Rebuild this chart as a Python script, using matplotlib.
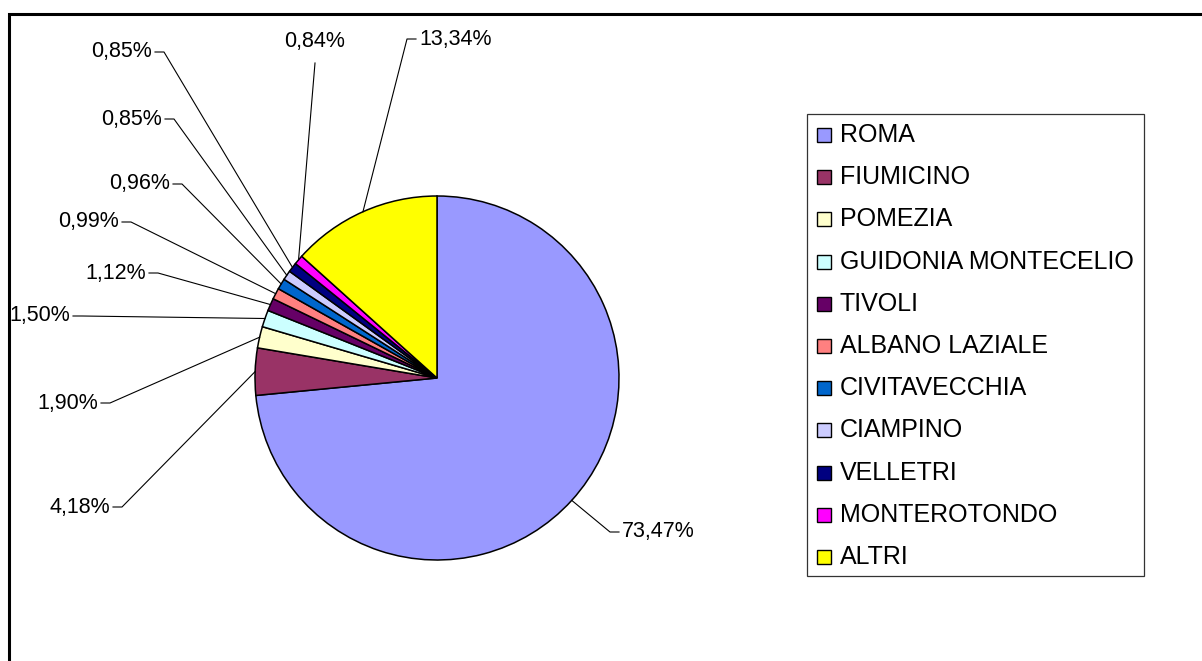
import numpy as np
import matplotlib
matplotlib.use('Agg')
import matplotlib.pyplot as plt
from matplotlib.patches import Rectangle

plt.rcParams['font.family'] = ['Liberation Sans', 'DejaVu Sans']

comuni = ['ROMA', 'FIUMICINO', 'POMEZIA', 'GUIDONIA MONTECELIO', 'TIVOLI',
          'ALBANO LAZIALE', 'CIVITAVECCHIA', 'CIAMPINO', 'VELLETRI',
          'MONTEROTONDO', 'ALTRI']
quote = [73.47, 4.18, 1.90, 1.50, 1.12, 0.99, 0.96, 0.85, 0.85, 0.84, 13.34]
colori = ['#9999FF', '#993366', '#FFFFCC', '#CCFFFF', '#660066', '#FF8080',
          '#0066CC', '#CCCCFF', '#000080', '#FF00FF', '#FFFF00']

# label text positions in pixels (x, y from top), alignment
label_pos = [(622, 532, 'left'), (110, 507, 'right'), (98, 403, 'right'),
             (70, 316, 'right'), (146, 273, 'right'), (119, 222, 'right'),
             (170, 184, 'right'), (162, 119, 'right'), (152, 52, 'right'),
             (315, 42, 'center'), (419, 39, 'left')]

W, H = 1202, 661
fig = plt.figure(figsize=(W / 100, H / 100), dpi=100)
ax = fig.add_axes([0, 0, 1, 1])

cx, cy, r = 437, H - 378, 182
wedges, _ = ax.pie(quote, colors=colori, startangle=90, counterclock=False,
                   center=(cx, cy), radius=r, frame=True,
                   wedgeprops=dict(edgecolor='black', linewidth=1.1))
ax.set_xlim(0, W)
ax.set_ylim(0, H)
ax.set_aspect('equal')
ax.axis('off')

for w, q, (tx, ty, ha) in zip(wedges, quote, label_pos):
    ang = np.deg2rad((w.theta1 + w.theta2) / 2)
    ex, ey = cx + r * np.cos(ang), cy + r * np.sin(ang)
    ty = H - ty
    txt = f'{q:.2f}%'.replace('.', ',')
    ax.text(tx, ty, txt, ha=ha, va='center', fontsize=15.5)
    if ha == 'right':
        xs, ys = [tx + 3, tx + 12, ex], [ty, ty, ey]
    elif ha == 'left':
        xs, ys = [tx - 3, tx - 12, ex], [ty, ty, ey]
    else:
        xs, ys = [tx, ex], [ty - 21, ey]
    ax.plot(xs, ys, color='black', linewidth=0.8)

# legend drawn by hand to match the original box
lx0, ly0, lx1, ly1 = 807, 114, 1144, 576
ax.add_patch(Rectangle((lx0, H - ly1), lx1 - lx0, ly1 - ly0, fill=False,
                       edgecolor='#333333', linewidth=0.9))
row0, step = 135, (557 - 135) / (len(comuni) - 1)
for i, (nome, c) in enumerate(zip(comuni, colori)):
    yy = H - (row0 + i * step)
    ax.add_patch(Rectangle((817, yy - 7), 14, 14, facecolor=c,
                           edgecolor='black', linewidth=1.0))
    ax.text(840, yy, nome, ha='left', va='center', fontsize=18)

# outer chart border
fig.patches.append(Rectangle((9 / W, -0.1), 1.2, 1 - 14 / H + 0.1,
                             transform=fig.transFigure, fill=False,
                             edgecolor='black', linewidth=2.2))

fig.savefig('out.png', dpi=100)
